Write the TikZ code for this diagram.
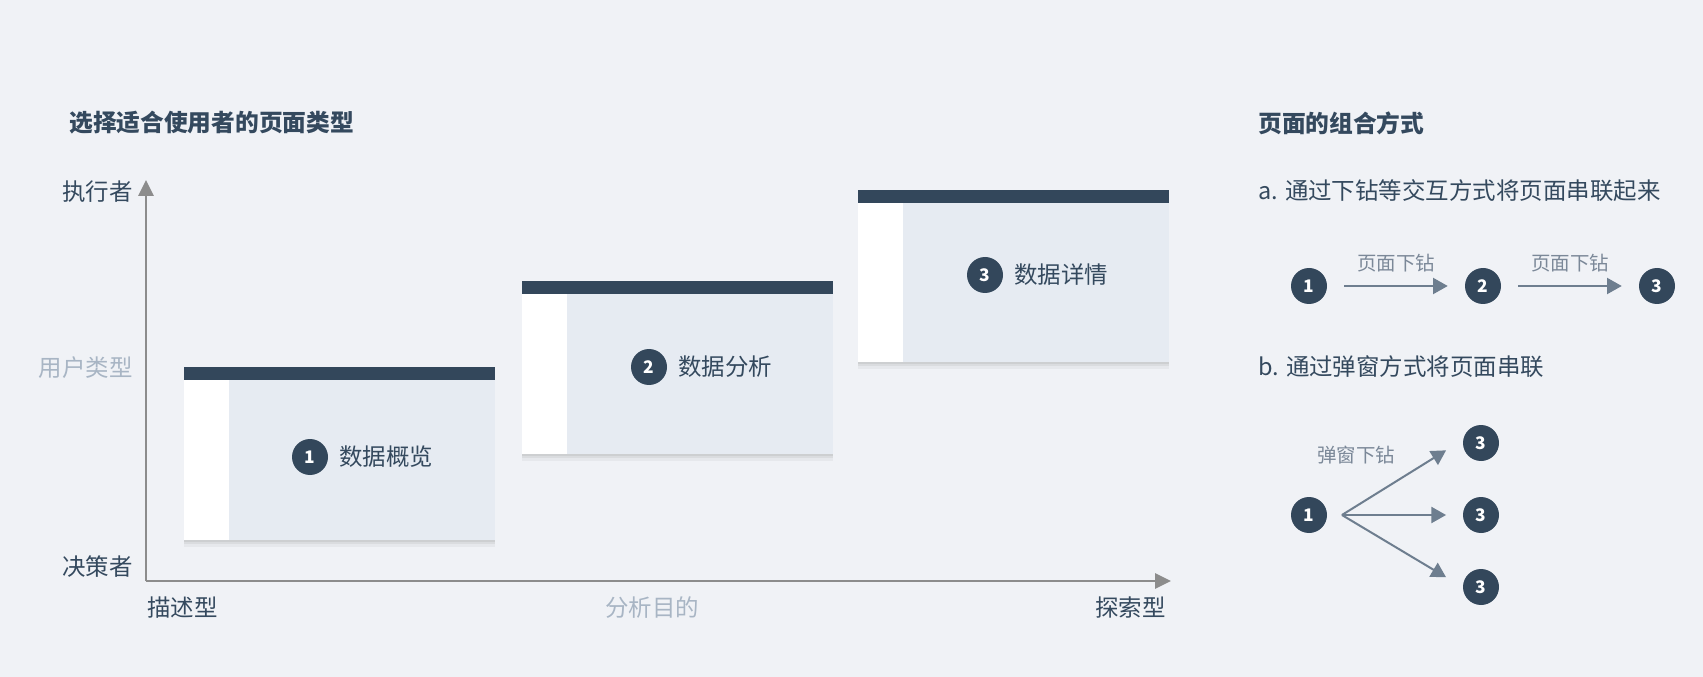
\documentclass[tikz,border=0pt]{standalone}
\usepackage{fontspec}
\setmainfont{Noto Sans CJK SC}
\usetikzlibrary{arrows.meta, positioning, shadows}
\definecolor{pagebg}{HTML}{F0F2F6}
\definecolor{bodyfill}{HTML}{E6EBF2}
\definecolor{darkslate}{HTML}{33475B}
\definecolor{textslate}{HTML}{34495E}
\definecolor{axisgray}{HTML}{8C8C8C}
\definecolor{namegray}{HTML}{A8B5C4}
\definecolor{linkgray}{HTML}{6E7E8F}
\definecolor{linktext}{HTML}{7B8898}
\tikzset{%
	title text/.style={
		inner sep=0pt,
		text=textslate,
		font=\fontsize{17.8}{20}\selectfont\bfseries
	},
	axis text/.style={
		inner sep=0pt,
		text=textslate,
		font=\fontsize{17.6}{20}\selectfont
	},
	axis name/.style={
		axis text,
		text=namegray
	},
	axis line/.style={
		draw=axisgray,
		line width=1.5pt,
		-{Triangle[length=12pt,width=11.5pt]}
	},
	page body/.style={fill=bodyfill},
	page bar/.style={fill=darkslate},
	page shadow/.style={
		drop shadow={shadow xshift=0pt, shadow yshift=-5pt, opacity=.04, fill=black},
		drop shadow={shadow xshift=0pt, shadow yshift=-3pt, opacity=.05, fill=black},
		drop shadow={shadow xshift=0pt, shadow yshift=-1.5pt, opacity=.06, fill=black}
	},
	num dot/.style={
		circle,
		fill=darkslate,
		text=white,
		minimum size=27pt,
		inner sep=0pt,
		font=\fontsize{13}{13}\selectfont\bfseries
	},
	page text/.style={
		axis text,
		anchor=west
	},
	link arrow/.style={
		draw=linkgray,
		line width=1.5pt,
		-{Triangle[length=11pt,width=12pt]}
	},
	drill label/.style={
		inner sep=0pt,
		text=linktext,
		font=\fontsize{14.6}{16}\selectfont
	},
}
\begin{document}
\begin{tikzpicture}[x=0.75pt, y=-0.75pt]
	% background and size
	\fill[pagebg] (0,0) rectangle (1703,677);
	\useasboundingbox (0,0) rectangle (1703,677);
	
	% left title
	\node[title text, anchor=west] (lefttitle) at (69,123) {选择适合使用者的页面类型};
	
	% axes
	\coordinate (origin) at (146,581);
	\coordinate (ytip) at (146,180);
	\coordinate (xtip) at (1171,581);
	\draw[axis line] (origin) -- (ytip);
	\draw[axis line] (origin) -- (xtip);
	\node[axis text, anchor=east] (yhigh) at (133,192) {执行者};
	\node[axis name, anchor=east] (yname) at (133,368) {用户类型};
	\node[axis text, anchor=east] (ylow) at (133,567) {决策者};
	\node[axis text, anchor=west] (xlow) at (147,608) {描述型};
	\node[axis name, anchor=west] (xname) at (605,608) {分析目的};
	\node[axis text, anchor=east] (xhigh) at (1166,608) {探索型};
	
	% first page
	\fill[page body, page shadow] (184,367) rectangle (495,540);
	\fill[white] (184,380) rectangle (229,540);
	\fill[page bar] (184,367) rectangle (495,380);
	\node[num dot] (n1) at (310,457) {1};
	\node[page text, right=8pt of n1] (t1) {数据概览};
	
	% second page
	\fill[page body, page shadow] (522,281) rectangle (833,454);
	\fill[white] (522,294) rectangle (567,454);
	\fill[page bar] (522,281) rectangle (833,294);
	\node[num dot] (n2) at (649,367) {2};
	\node[page text, right=8pt of n2] (t2) {数据分析};
	
	% third page
	\fill[page body, page shadow] (858,190) rectangle (1169,362);
	\fill[white] (858,203) rectangle (903,362);
	\fill[page bar] (858,190) rectangle (1169,203);
	\node[num dot] (n3) at (985,275) {3};
	\node[page text, right=8pt of n3] (t3) {数据详情};
	
	% right title
	\node[title text, anchor=west] (righttitle) at (1258,123) {页面的组合方式};
	
	% a. drill down chain
	\node[axis text, anchor=west] (waya) at (1258,191) {a. 通过下钻等交互方式将页面串联起来};
	\node[num dot] (a1) at (1309,286) {1};
	\node[num dot] (a2) at (1483,286) {2};
	\node[num dot] (a3) at (1657,286) {3};
	\draw[link arrow, shorten <=12.75pt, shorten >=12.75pt] (a1) -- node[drill label, above=9.5pt] (da1) {页面下钻} (a2);
	\draw[link arrow, shorten <=12.75pt, shorten >=12.75pt] (a2) -- node[drill label, above=9.5pt] (da2) {页面下钻} (a3);
	
	% b. popup windows
	\node[axis text, anchor=west] (wayb) at (1258,367) {b. 通过弹窗方式将页面串联};
	\node[num dot] (b1) at (1309,515) {1};
	\node[num dot] (b2) at (1481,443) {3};
	\node[num dot] (b3) at (1481,515) {3};
	\node[num dot] (b4) at (1481,587) {3};
	\coordinate (fork) at ([xshift=11pt]b1.east);
	\draw[link arrow] (fork) -- ([xshift=-12.5pt, yshift=-5.5pt]b2.west);
	\draw[link arrow] (fork) -- ([xshift=-12.5pt]b3.west);
	\draw[link arrow] (fork) -- ([xshift=-12.5pt, yshift=7.3pt]b4.west);
	\node[drill label] (db) at (1356,455) {弹窗下钻};
	
\end{tikzpicture}
\end{document}
